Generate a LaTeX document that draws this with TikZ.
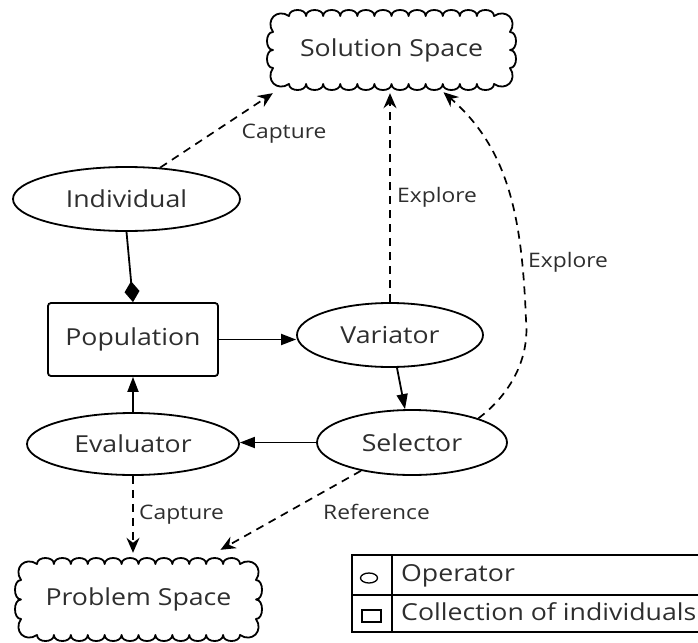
\documentclass[tikz,border=0pt]{standalone}
\usepackage{fontspec}
\setmainfont{Open Sans}[FakeStretch=1.14]
\usetikzlibrary{arrows.meta,shapes.geometric,calc}

% scalloped outline round a base rectangle (x1,y1)-(x2,y2):
% #5 bumps along top and bottom, #6 bumps along each side
\newcommand\scallopbox[6]{%
  \pgfmathsetmacro\sbw{(#3-#1-32)/#5}%
  \pgfmathsetmacro\sbh{(#4-#2-32)/#6}%
  \draw[cloudline] (#1+16,#2)
    \foreach \i in {1,...,#5} { .. controls +(0,-8) and +(0,-8) .. ++(\sbw,0) }
    .. controls +(12,-8) and +(8,-12) .. ++(16,16)
    \foreach \i in {1,...,#6} { .. controls +(8,0) and +(8,0) .. ++(0,\sbh) }
    .. controls +(8,12) and +(12,8) .. ++(-16,16)
    \foreach \i in {1,...,#5} { .. controls +(0,8) and +(0,8) .. ++(-\sbw,0) }
    .. controls +(-12,8) and +(-8,12) .. ++(-16,-16)
    \foreach \i in {1,...,#6} { .. controls +(-8,0) and +(-8,0) .. ++(0,-\sbh) }
    .. controls +(-8,-12) and +(-12,-8) .. ++(16,-16) -- cycle;
}

\begin{document}
\begin{tikzpicture}[x=1pt,y=-1pt,
  every node/.style={text=black!82, inner sep=0pt},
  big/.style={font=\fontsize{23.4}{28}\selectfont},
  small/.style={font=\fontsize{20}{24}\selectfont},
  op/.style={big, draw=black, ellipse, line width=1.8pt},
  coll/.style={big, draw=black, rectangle, rounded corners=3pt, line width=1.8pt},
  space/.style={big, rectangle},
  cloudline/.style={draw=black, line width=1.8pt, line join=round},
  flow/.style={line width=1.8pt, -{Triangle[length=15pt,width=11pt]}},
  link/.style={line width=1.7pt, dash pattern=on 8pt off 6pt,
    -{Stealth[length=15pt,width=13pt,inset=5pt]}},
  part/.style={line width=1.8pt, {Diamond[length=21pt,width=15pt]}-},
  label/.style={small, anchor=base west},
  legendline/.style={line width=1.8pt},
]
\useasboundingbox (0,0) rectangle (698,642);

% the two spaces
\node[space, minimum width=249pt, minimum height=80pt] (sol) at (391.5,50) {Solution Space};
\scallopbox{273}{16}{510}{84}{12}{2}
\node[space, minimum width=247pt, minimum height=83pt] (prob) at (138.5,599.5) {Problem Space};
\scallopbox{21}{564}{256}{635}{12}{2}

% operators and the population
\node[op, minimum width=227pt, minimum height=64pt] (ind) at (126.5,199) {Individual};
\node[coll, minimum width=170pt, minimum height=73pt] (pop) at (133,339.5) {Population};
\node[op, minimum width=186pt, minimum height=64pt] (var) at (390,335) {Variator};
\node[op, minimum width=190pt, minimum height=65pt] (sel) at (412,442.5) {Selector};
\node[op, minimum width=212pt, minimum height=62pt] (eval) at (133,444) {Evaluator};

% solid flow
\draw[part] (pop.north) -- (ind.south);
\draw[flow] (pop.east) -- (pop.east -| var.west);
\draw[flow] ([xshift=7pt]var.south) -- ([xshift=-7pt]sel.north);
\draw[flow] (sel.west) -- (sel.west -| eval.east);
\draw[flow] (eval.north) -- (pop.south);

% dashed relations to the spaces
\draw[link] (ind.43) -- ($(sol.south west)+(6,3)$);
\draw[link] (var.north) -- ($(var.north |- sol.south)+(0,3)$);
\draw[link] (sel.20) .. controls (507,397) and (530,362) .. (526,320)
  .. controls (522,220) and (510,150) .. ($(sol.south)+(52,2)$);
\draw[link] (eval.south) -- ($(eval.south |- prob.north)+(0,-5)$);
\draw[link] (sel.209.7) -- ($(prob.north)+(82,-8)$);

% relation labels
\node[label] (lcap1) at (241.5,138) {Capture};
\node[label] (lexp1) at (397,202.5) {Explore};
\node[label] (lexp2) at (528,267.5) {Explore};
\node[label] (lcap2) at (139,519.5) {Capture};
\node[label] (lref) at (323,519.5) {Reference};

% legend
\draw[legendline] (352,555) rectangle (720,632);
\draw[legendline] (392,555) -- (392,632);
\draw[legendline] (352,595) -- (720,595);
\node[draw=black, ellipse, line width=1.3pt, minimum width=17pt, minimum height=10pt] (lgop) at (369,578) {};
\node[draw=black, rectangle, line width=1.3pt, minimum width=19pt, minimum height=12pt] (lgcol) at (371.5,616) {};
\node[big, anchor=base west] (lgoptext) at (401,581.5) {Operator};
\node[big, anchor=base west] (lgcoltext) at (401,620) {Collection of individuals};
\end{tikzpicture}
\end{document}
